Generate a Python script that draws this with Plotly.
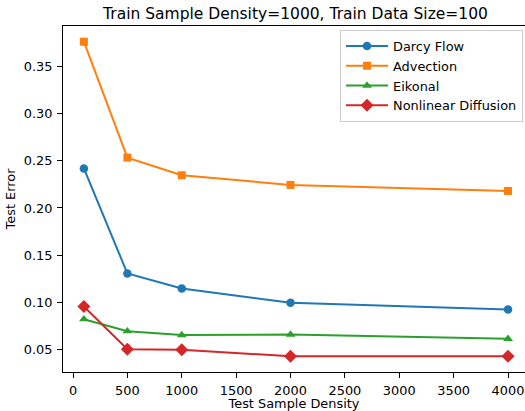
import plotly.graph_objects as go

densities = [100, 500, 1000, 2000, 4000]
darcy_flow = [0.242, 0.1304, 0.1145, 0.0993, 0.0921]
advection = [0.3766, 0.2535, 0.2348, 0.2245, 0.2181]
eikonal = [0.0819, 0.0691, 0.0650, 0.0655, 0.0610]
nonlinear_diffusion = [0.0953, 0.0500, 0.0495, 0.0425, 0.0425]

series_names = ["Darcy Flow", "Advection", "Eikonal", "Nonlinear Diffusion"]
colors = ["#1f77b4", "#ff7f0e", "#2ca02c", "#d62728"]
symbols = ["circle", "square", "triangle-up", "diamond"]
marker_sizes = [8.5, 8, 8.5, 10]

x_ticks = [0, 500, 1000, 1500, 2000, 2500, 3000, 3500, 4000]
y_ticks = [0.05, 0.10, 0.15, 0.20, 0.25, 0.30, 0.35]

FONT = "DejaVu Sans"
FS = 12.9

fig = go.Figure()
for name, vals, c, s, ms in zip(series_names,
                                [darcy_flow, advection, eikonal, nonlinear_diffusion],
                                colors, symbols, marker_sizes):
    fig.add_trace(go.Scatter(
        x=densities, y=vals, name=name, mode="lines+markers",
        line=dict(color=c, width=2),
        marker=dict(symbol=s, size=ms, color=c, line=dict(width=0)),
    ))

fig.update_layout(
    width=525, height=411,
    margin=dict(l=63, r=0, t=26, b=39, autoexpand=False),
    paper_bgcolor="white", plot_bgcolor="white",
    font=dict(family=FONT, size=FS, color="black"),
    title=dict(text="Train Sample Density=1000, Train Data Size=100",
               x=295.5 / 525, xref="container", xanchor="center",
               y=1 - 19 / 411, yref="container", yanchor="bottom",
               font=dict(family=FONT, size=15.5, color="black")),
    showlegend=True,
    legend=dict(
        x=0.9957, xanchor="right", y=0.988, yanchor="top",
        bgcolor="rgba(255,255,255,0.8)", bordercolor="#cccccc", borderwidth=1,
        font=dict(family=FONT, size=FS, color="black"),
        itemwidth=42, tracegroupgap=0,
    ),
)

fig.update_xaxes(
    range=[-92, 4156], tickvals=x_ticks, ticktext=[str(v) for v in x_ticks],
    showgrid=False, zeroline=False, automargin=False,
    showline=True, linecolor="black", linewidth=1, mirror=True,
    ticks="outside", ticklen=5, tickwidth=1, tickcolor="black",
    ticklabeloverflow="allow", ticklabelstandoff=2,
    title=dict(text="Test Sample Density", standoff=8,
               font=dict(family=FONT, size=FS, color="black")),
)
fig.update_yaxes(
    range=[0.0258, 0.3933], tickvals=y_ticks, ticktext=[f"{v:.2f}" for v in y_ticks],
    showgrid=False, zeroline=False, automargin=False,
    showline=True, linecolor="black", linewidth=1, mirror=True,
    ticks="outside", ticklen=5, tickwidth=1, tickcolor="black",
    ticklabelstandoff=2,
    title=dict(text="Test Error", standoff=5,
               font=dict(family=FONT, size=FS, color="black")),
)

fig.write_html("out.html")
